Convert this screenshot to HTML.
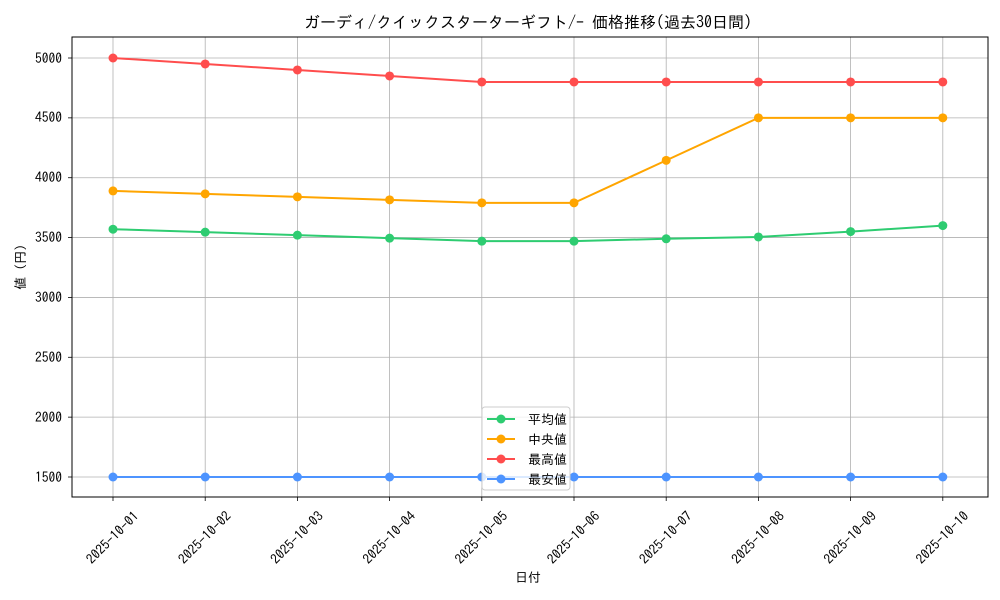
<!DOCTYPE html>
<html><head><meta charset="utf-8"><style>
html,body{margin:0;padding:0;background:#fff}
svg{display:block;font-family:"IPAGothic","Noto Sans CJK JP",sans-serif}
</style></head><body>
<svg id="s" width="1000" height="600" xmlns="http://www.w3.org/2000/svg">
<rect width="1000" height="600" fill="#fff"/>
<g id="grid" stroke="#b0b0b0" stroke-width="0.8"></g>
<g id="series"></g>
<rect x="72" y="37" width="916" height="460" fill="none" stroke="#000" stroke-width="1"/>
<text x="528" y="28" text-anchor="middle" font-size="16">ガーディ/クイックスターターギフト/- 価格推移(過去30日間)</text>
<g font-size="13.5" text-anchor="end">
<text x="62" y="482">1500</text><text x="62" y="422">2000</text><text x="62" y="362">2500</text><text x="62" y="302">3000</text>
<text x="62" y="242">3500</text><text x="62" y="182">4000</text><text x="62" y="122">4500</text><text x="62" y="63">5000</text>
</g>
<text transform="translate(25,267) rotate(-90)" text-anchor="middle" font-size="13">値 (円)</text>
<text x="528" y="582" text-anchor="middle" font-size="13">日付</text>
<g font-size="13.5" text-anchor="middle">
<text transform="translate(113,538) rotate(-45)" dy="4">2025-10-01</text>
<text transform="translate(205.2,538) rotate(-45)" dy="4">2025-10-02</text>
<text transform="translate(297.4,538) rotate(-45)" dy="4">2025-10-03</text>
<text transform="translate(389.6,538) rotate(-45)" dy="4">2025-10-04</text>
<text transform="translate(481.8,538) rotate(-45)" dy="4">2025-10-05</text>
<text transform="translate(574,538) rotate(-45)" dy="4">2025-10-06</text>
<text transform="translate(666.2,538) rotate(-45)" dy="4">2025-10-07</text>
<text transform="translate(758.4,538) rotate(-45)" dy="4">2025-10-08</text>
<text transform="translate(850.6,538) rotate(-45)" dy="4">2025-10-09</text>
<text transform="translate(942.8,538) rotate(-45)" dy="4">2025-10-10</text>
</g>
<g>
<rect x="482" y="407" width="88" height="83" rx="3" fill="#fff" fill-opacity="0.8" stroke="#ccc"/>
<g font-size="13">
<line x1="487" y1="419" x2="515" y2="419" stroke="#2ecc71" stroke-width="2"/><circle cx="501" cy="419" r="4.5" fill="#2ecc71"/><text x="528" y="424">平均値</text>
<line x1="487" y1="439" x2="515" y2="439" stroke="#ffa500" stroke-width="2"/><circle cx="501" cy="439" r="4.5" fill="#ffa500"/><text x="528" y="444">中央値</text>
<line x1="487" y1="459" x2="515" y2="459" stroke="#ff4d4d" stroke-width="2"/><circle cx="501" cy="459" r="4.5" fill="#ff4d4d"/><text x="528" y="464">最高値</text>
<line x1="487" y1="479" x2="515" y2="479" stroke="#4d94ff" stroke-width="2"/><circle cx="501" cy="479" r="4.5" fill="#4d94ff"/><text x="528" y="484">最安値</text>
</g>
</g>
</svg>
<script>
var NS="http://www.w3.org/2000/svg";
var g=document.getElementById("grid"),se=document.getElementById("series");
function el(p,t,a){var e=document.createElementNS(NS,t);for(var k in a)e.setAttribute(k,a[k]);p.appendChild(e);return e;}
var xs=[];for(var i=0;i<10;i++)xs.push(113+92.2*i);
function y(v){return 477-(v-1500)*0.119714;}
xs.forEach(function(x){el(g,"line",{x1:x,x2:x,y1:37,y2:497});el(g,"line",{x1:x,x2:x,y1:497,y2:501,stroke:"#000"});});
for(var v=1500;v<=5000;v+=500){el(g,"line",{x1:72,x2:988,y1:y(v),y2:y(v)});el(g,"line",{x1:68,x2:72,y1:y(v),y2:y(v),stroke:"#000"});}
var S=[["#ff4d4d",[5000,4950,4900,4850,4800,4800,4800,4800,4800,4800]],
["#ffa500",[3890,3865,3840,3815,3790,3790,4145,4500,4500,4500]],
["#2ecc71",[3570,3545,3520,3495,3470,3470,3490,3505,3550,3600]],
["#4d94ff",[1500,1500,1500,1500,1500,1500,1500,1500,1500,1500]]];
S.forEach(function(s){var pts=s[1].map(function(v,i){return xs[i]+","+y(v);}).join(" ");
el(se,"polyline",{points:pts,fill:"none",stroke:s[0],"stroke-width":2});
s[1].forEach(function(v,i){el(se,"circle",{cx:xs[i],cy:y(v),r:4.5,fill:s[0]});});});
</script>
</body></html>
